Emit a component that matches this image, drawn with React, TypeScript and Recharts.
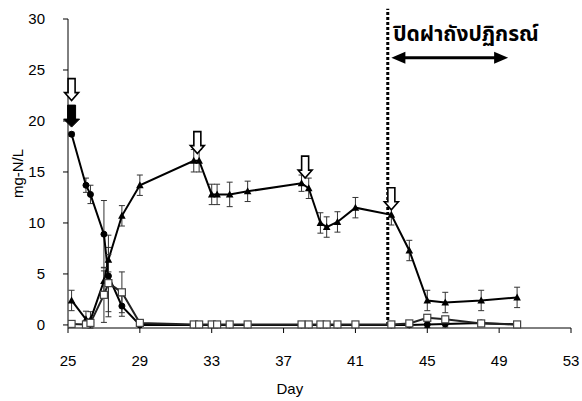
import React from "react";
import {
  ComposedChart,
  Line,
  XAxis,
  YAxis,
  ErrorBar,
  ReferenceLine,
  ReferenceDot,
} from "recharts";

const days = [25.2, 26, 26.25, 27, 27.25, 28, 29, 32, 32.3, 33, 33.3, 34, 35, 38, 38.4, 39.05, 39.4, 40, 41, 43, 44, 45, 46, 48, 50];
const circleValues = [18.7, 13.7, 12.8, 8.9, 4.8, 1.85, 0.0, 0.0, 0.0, 0.0, 0.0, 0.0, 0.0, 0.0, 0.0, 0.0, 0.0, 0.0, 0.0, 0.0, 0.0, 0.05, 0.1, 0.2, 0.05];
const circleErrors = [0.2, 0.7, 0.9, 3.3, 4.0, 1.0, 0.1, 0, 0, 0, 0, 0, 0, 0, 0, 0, 0, 0, 0, 0, 0.2, 0.3, 0.3, 0.1, 0.1];
const triangleValues = [2.4, 0.55, 0.5, 4.3, 6.4, 10.7, 13.7, 16.1, 16.1, 12.8, 12.8, 12.8, 13.1, 13.9, 13.4, 10.0, 9.6, 10.1, 11.5, 10.8, 7.3, 2.4, 2.2, 2.4, 2.7];
const triangleErrors = [1.0, 0.8, 0.8, 1.0, 1.2, 1.0, 1.0, 1.1, 1.1, 1.0, 1.0, 1.2, 1.0, 0.8, 1.0, 1.0, 1.0, 1.0, 1.0, 1.0, 1.0, 1.0, 1.0, 1.0, 1.0];
const squareValues = [0.1, 0.05, 0.2, 2.95, 4.1, 3.2, 0.2, 0.05, 0.05, 0.05, 0.05, 0.05, 0.05, 0.05, 0.05, 0.05, 0.05, 0.05, 0.05, 0.05, 0.15, 0.7, 0.55, 0.15, 0.05];
const squareErrors = [0.1, 0.1, 0.3, 2.7, 2.8, 2.0, 0.3, 0, 0, 0, 0, 0, 0, 0, 0, 0, 0, 0, 0, 0, 0.1, 0.2, 0.2, 0.1, 0.1];

const xTicks = [25, 29, 33, 37, 41, 45, 49, 53];
const yTicks = [0, 5, 10, 15, 20, 25, 30];

const openArrows = [
  { day: 25.2, tip: 22.0 },
  { day: 32.2, tip: 16.8 },
  { day: 38.2, tip: 14.4 },
  { day: 43.0, tip: 11.3 },
];
const filledArrow = { day: 25.2, tip: 19.4 };
const closeStartDay = 42.8;
const closeSpan = { from: 43.0, to: 49.5, level: 26.2 };
const closeLabel = "ปิดฝาถังปฏิกรณ์";
const xTitle = "Day";
const yTitle = "mg-N/L";

const table = days.map((d, i) => ({
  day: d,
  circle: circleValues[i],
  circleErr: circleErrors[i],
  triangle: triangleValues[i],
  triangleErr: triangleErrors[i],
  square: squareValues[i],
  squareErr: squareErrors[i],
}));

const font = "'Liberation Sans', Arial, sans-serif";

const TriangleDot = (props: any) => {
  const { cx, cy, index } = props;
  if (cx == null || cy == null) return <g key={`t${index}`} />;
  return (
    <path
      key={`t${index}`}
      d={`M${cx},${cy - 4} L${cx + 3.8},${cy + 3} L${cx - 3.8},${cy + 3} Z`}
      fill="#000"
    />
  );
};

const SquareDot = (props: any) => {
  const { cx, cy, index } = props;
  if (cx == null || cy == null) return <g key={`s${index}`} />;
  return (
    <rect
      key={`s${index}`}
      x={cx - 3.5}
      y={cy - 3.5}
      width={7}
      height={7}
      fill="#fff"
      stroke="#444"
      strokeWidth={1.2}
    />
  );
};

const OpenArrow = (props: any) => {
  const { cx, cy } = props;
  if (cx == null || cy == null) return <g />;
  const d = `M${cx - 3.5},${cy - 22} L${cx + 3.5},${cy - 22} L${cx + 3.5},${cy - 8} L${cx + 7},${cy - 8} L${cx},${cy} L${cx - 7},${cy - 8} L${cx - 3.5},${cy - 8} Z`;
  return <path d={d} fill="#fff" stroke="#000" strokeWidth={1.6} />;
};

const FilledArrow = (props: any) => {
  const { cx, cy } = props;
  if (cx == null || cy == null) return <g />;
  const d = `M${cx - 4},${cy - 22} L${cx + 4},${cy - 22} L${cx + 4},${cy - 8} L${cx + 8},${cy - 8} L${cx},${cy} L${cx - 8},${cy - 8} L${cx - 4},${cy - 8} Z`;
  return <path d={d} fill="#000" stroke="#000" strokeWidth={1} />;
};

const LeftHead = (props: any) => {
  const { cx, cy } = props;
  if (cx == null || cy == null) return <g />;
  return <path d={`M${cx},${cy} L${cx + 14},${cy - 6} L${cx + 14},${cy + 6} Z`} fill="#000" />;
};
const RightHead = (props: any) => {
  const { cx, cy } = props;
  if (cx == null || cy == null) return <g />;
  return <path d={`M${cx},${cy} L${cx - 14},${cy - 6} L${cx - 14},${cy + 6} Z`} fill="#000" />;
};

const ThaiText = (props: any) => {
  const { cx, cy } = props;
  if (cx == null || cy == null) return <g />;
  return (
    <text
      x={cx}
      y={cy}
      fontSize={21}
      fontWeight="bold"
      fill="#000"
      fontFamily="Tahoma, 'Noto Sans Thai', Loma, 'DejaVu Sans', sans-serif"
    >
      {closeLabel}
    </text>
  );
};

const DayLabel = (props: any) => {
  const vb = props.viewBox || {};
  const x = (vb.x ?? 68) + (vb.width ?? 503) * 0.441;
  const y = (vb.y ?? 328) + (vb.height ?? 73) - 7;
  return (
    <text x={x} y={y} textAnchor="middle" fontSize={15} fill="#000" fontFamily={font}>
      {xTitle}
    </text>
  );
};

export default function App() {
  return (
    <div style={{ position: "absolute", left: 0, top: 0, background: "#fff" }}>
      <ComposedChart
        width={582}
        height={401}
        data={table}
        margin={{ top: 19, right: 11, left: 0, bottom: 0 }}
      >
        <XAxis
          dataKey="day"
          type="number"
          domain={[25, 53]}
          ticks={xTicks}
          interval={0}
          allowDataOverflow
          stroke="#000"
          tickSize={5}
          tickMargin={22}
          height={73}
          tick={{ fill: "#000", fontSize: 15, fontFamily: font }}
          label={{ content: DayLabel }}
        />
        <YAxis
          type="number"
          domain={[0, 30]}
          ticks={yTicks}
          interval={0}
          stroke="#000"
          tickSize={5}
          tickMargin={18}
          width={68}
          tick={{ fill: "#000", fontSize: 15, fontFamily: font }}
          label={{ value: yTitle, angle: -90, position: "insideLeft", offset: 18, fill: "#000", fontSize: 15, fontFamily: font, style: { textAnchor: "middle" } }}
        />
        <ReferenceLine
          segment={[{ x: closeStartDay, y: 0 }, { x: closeStartDay, y: 31 }]}
          stroke="#000"
          strokeWidth={3}
          strokeDasharray="3 2"
          ifOverflow="visible"
        />
        <Line
          dataKey="triangle"
          stroke="#000"
          strokeWidth={2}
          dot={TriangleDot}
          activeDot={false}
          isAnimationActive={false}
        >
          <ErrorBar dataKey="triangleErr" width={3} stroke="#333" strokeWidth={1} direction="y" />
        </Line>
        <Line
          dataKey="circle"
          stroke="#000"
          strokeWidth={2}
          dot={{ r: 3, fill: "#000", stroke: "#000", strokeWidth: 1 }}
          activeDot={false}
          isAnimationActive={false}
        >
          <ErrorBar dataKey="circleErr" width={3} stroke="#333" strokeWidth={1} direction="y" />
        </Line>
        <Line
          dataKey="square"
          stroke="#222"
          strokeWidth={2}
          dot={SquareDot}
          activeDot={false}
          isAnimationActive={false}
        >
          <ErrorBar dataKey="squareErr" width={3} stroke="#333" strokeWidth={1} direction="y" />
        </Line>
        {openArrows.map((a, i) => (
          <ReferenceDot key={`oa${i}`} x={a.day} y={a.tip} r={0} shape={OpenArrow} ifOverflow="visible" />
        ))}
        <ReferenceDot x={filledArrow.day} y={filledArrow.tip} r={0} shape={FilledArrow} ifOverflow="visible" />
        <ReferenceLine
          segment={[{ x: closeSpan.from + 0.6, y: closeSpan.level }, { x: closeSpan.to - 0.6, y: closeSpan.level }]}
          stroke="#000"
          strokeWidth={3}
          ifOverflow="visible"
        />
        <ReferenceDot x={closeSpan.from} y={closeSpan.level} r={0} shape={LeftHead} ifOverflow="visible" />
        <ReferenceDot x={closeSpan.to} y={closeSpan.level} r={0} shape={RightHead} ifOverflow="visible" />
        <ReferenceDot x={43.1} y={27.8} r={0} shape={ThaiText} ifOverflow="visible" />
      </ComposedChart>
    </div>
  );
}
